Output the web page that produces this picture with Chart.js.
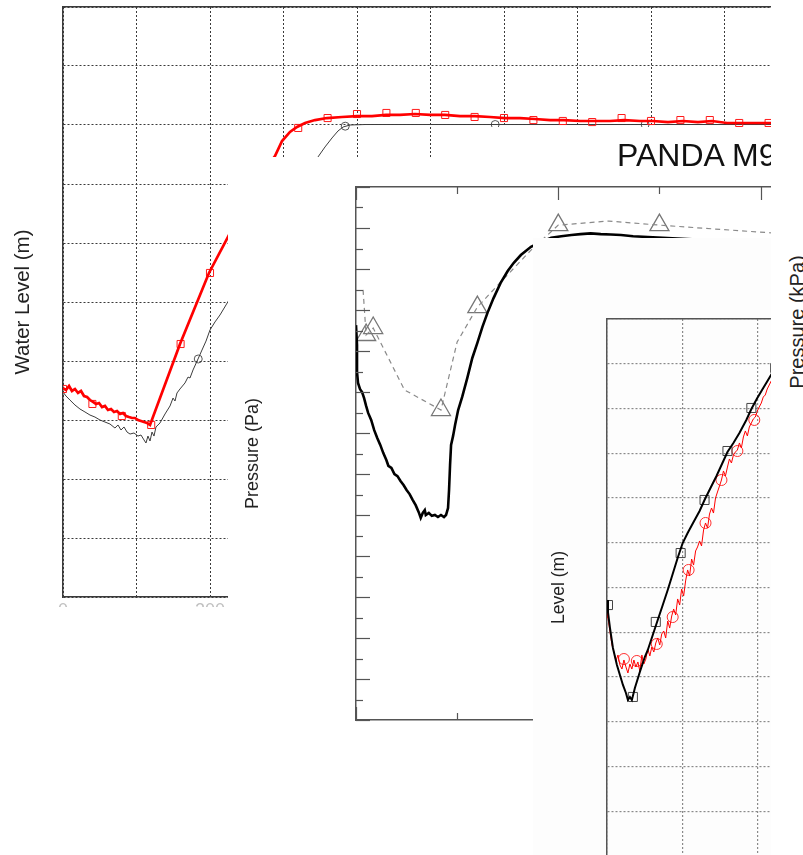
<!DOCTYPE html>
<html>
<head>
<meta charset="utf-8">
<title>PANDA M9</title>
<script src="https://cdn.jsdelivr.net/npm/chart.js@4.4.1/dist/chart.umd.min.js"></script>
<style>
  html, body { margin: 0; padding: 0; background: #fff; width: 803px; height: 855px; overflow: hidden; }
  #stage { position: absolute; left: 0; top: 0; width: 771px; height: 855px; overflow: hidden; background: #fff; }
  #wrapA { position: absolute; left: 0; top: 0; width: 771px; height: 607px; overflow: hidden; }
  canvas { position: absolute; display: block; }
  #cA { left: 0; top: 0; }
  #cB { left: 228px; top: 157px; background: #fff; }
  #cC { left: 533px; top: 238px; background: #fdfdfd; }
  #titleBox { position: absolute; left: 470px; top: 127px; width: 301px; height: 30px; background: #fff; }
  #title { position: absolute; left: 617px; top: 139px; font: 32px 'Liberation Sans', Arial, sans-serif; line-height: 32px; white-space: nowrap; color: #111; }
  #kpa { position: absolute; left: 797px; top: 322px; transform: translate(-50%, -50%) rotate(-90deg); font: 20px 'Liberation Sans', Arial, sans-serif; white-space: nowrap; color: #222; }
</style>
</head>
<body>
<div id="stage">
  <div id="wrapA"><canvas id="cA" width="804" height="625"></canvas></div>
  <canvas id="cB" width="646" height="698"></canvas>
  <div id="titleBox"></div>
  <div id="title">PANDA M9</div>
  <canvas id="cC" width="382" height="640"></canvas>
</div>
<div id="kpa">Pressure (kPa)</div>

<script>
// ---- Water level run (upper panel): time in s, level in m ----
const levelRedTime = [0,4.1,8.2,12.2,16.3,20.4,24.5,28.6,32.7,36.7,40.8,44.9,49.0,53.1,57.1,61.2,65.3,69.4,73.5,77.6,81.6,85.7,89.8,93.9,98.0,102.0,106.1,110.2,114.3,118.4,159.2,198.6,224.5,254.4,274.8,288.4,298.0,308.8,318.4,329.3,342.9,359.2,379.6,400.0,420.4,439.5,458.5,478.9,499.3,519.7,540.1,560.5,580.9,601.4,621.8,642.2,662.6,681.6,703.4,722.4,744.2,763.3,785.0,802.7,823.1,843.5,863.9,883.0,903.4,923.8,944.2,963.3,989.1];
const levelRed = [1.771,1.754,1.788,1.746,1.763,1.729,1.746,1.703,1.695,1.669,1.653,1.636,1.644,1.610,1.619,1.585,1.593,1.568,1.576,1.551,1.559,1.534,1.525,1.517,1.517,1.500,1.492,1.483,1.475,1.458,2.144,2.746,3.051,3.407,3.619,3.737,3.864,3.941,3.983,4.017,4.042,4.059,4.068,4.076,4.076,4.085,4.085,4.093,4.085,4.085,4.076,4.076,4.068,4.059,4.059,4.051,4.042,4.042,4.034,4.034,4.034,4.042,4.034,4.034,4.025,4.034,4.025,4.034,4.017,4.017,4.017,4.017,4.017];
const levelRedMarkT = [0,40,80,120,160,200,240,280,320,360,400,440,480,520,560,600,640,680,720,760,800,840,880,920,960];
const levelRedMark = [1.763,1.636,1.534,1.458,2.144,2.746,3.24,3.666,3.975,4.059,4.093,4.102,4.102,4.085,4.068,4.059,4.042,4.034,4.025,4.059,4.034,4.042,4.042,4.017,4.017];
const levelBlackTime = [0,4.1,9.5,16.3,23.1,29.9,36.7,43.5,50.3,57.1,63.9,70.7,74.8,78.9,83.0,87.1,91.2,96.6,102.0,106.1,110.2,112.9,115.6,118.4,121.1,123.8,126.5,132.0,138.8,145.6,149.7,152.4,155.1,159.2,166.0,170.1,172.8,176.9,183.7,189.1,194.6,200.0,206.8,213.6,221.8,234.0,268.0,308.8,346.9,356.5,366.0,374.1,381.0,390.5,410.9,500,700,1000];
const levelBlack = [1.737,1.703,1.669,1.627,1.593,1.568,1.542,1.525,1.500,1.483,1.466,1.432,1.458,1.415,1.441,1.398,1.381,1.390,1.364,1.373,1.331,1.305,1.364,1.322,1.398,1.364,1.441,1.475,1.551,1.619,1.686,1.661,1.729,1.763,1.814,1.864,1.856,1.924,2.017,2.093,2.169,2.263,2.331,2.390,2.475,2.602,2.966,3.364,3.729,3.814,3.890,3.949,3.983,4.000,4.004,4.004,4.004,4.004];
const levelBlackMarkT = [184,384,588,792];
const levelBlackMark = [2.017,3.99,4.004,4.004];

// ---- Pressure run (middle panel): time in s, pressure in Pa ----
const pressTime = [0,0.1,0.1,0.2,0.4,0.6,0.8,1.0,1.2,1.5,1.8,2.1,2.4,2.7,3.0,3.2,3.5,3.8,4.1,4.4,4.7,5.0,5.3,5.6,5.9,6.2,6.4,6.6,6.8,6.9,7.2,7.5,7.8,8.1,8.4,8.7,8.9,9.1,9.2,9.3,9.4,9.6,9.8,10.1,10.5,11.0,11.5,12.0,12.5,13.0,13.6,14.3,15.0,15.6,16.3,17.3,18.3,19.3,20.3,21.3,22.2,23.2,24.2,25.2,26.2,27.4,34.2,50];
const pressure = [963,915,849,822,807,800,785,766,749,732,707,688,671,651,634,620,615,600,595,583,573,561,551,537,524,507,493,505,512,500,505,498,500,495,500,495,500,517,561,622,671,693,720,756,788,834,883,920,959,993,1029,1066,1095,1115,1134,1154,1166,1176,1180,1183,1185,1187,1185,1184,1183,1180,1171,1159];
const refTime = [0.7,1.0,1.7,4.8,8.4,10.0,12.0,14.3,17.3,20.0,25.0,30.0,35.2,41.1,50];
const refPressure = [1049,939,956,805,756,922,1007,1068,1146,1207,1217,1207,1198,1188,1180];
const refMarkT = [1.0,1.7,8.4,12.0,20.0,30.0];
const refMark = [939,956,756,1007,1207,1207];

// ---- Level run (lower panel): time in s, level in m ----
const tankTime = [0,0.013,0.040,0.079,0.132,0.172,0.212,0.252,0.278,0.305,0.331,0.371,0.437,0.503,0.543,0.609,0.675,0.742,0.808,0.874,0.940,1.007,1.073,1.152,1.232,1.298,1.377,1.457,1.536,1.603,1.682,1.762,1.854,1.921,2.000,2.079,2.159,2.238];
const tankLevel = [2.860,2.726,2.547,2.324,2.134,2.022,1.911,1.821,1.743,1.777,1.743,1.877,2.056,2.223,2.302,2.469,2.637,2.804,2.972,3.151,3.330,3.497,3.609,3.732,3.855,3.978,4.112,4.246,4.391,4.514,4.615,4.726,4.872,4.994,5.117,5.229,5.341,5.453];
const tankMarkT = [0.013,0.344,0.649,0.980,1.298,1.603,1.921,2.238];
const tankMark = [2.804,1.777,2.615,3.385,3.978,4.525,5.006,5.453];
const probeTime = [0.000,0.013,0.040,0.066,0.093,0.119,0.146,0.172,0.199,0.225,0.252,0.278,0.305,0.331,0.358,0.384,0.411,0.437,0.464,0.490,0.517,0.543,0.570,0.596,0.623,0.649,0.675,0.702,0.728,0.755,0.781,0.808,0.834,0.861,0.887,0.914,0.940,0.967,0.993,1.020,1.046,1.073,1.099,1.126,1.152,1.179,1.205,1.232,1.258,1.285,1.311,1.338,1.364,1.391,1.417,1.444,1.470,1.497,1.523,1.550,1.576,1.603,1.629,1.656,1.682,1.709,1.735,1.762,1.788,1.815,1.841,1.868,1.894,1.921,1.947,1.974,2.000,2.026,2.053,2.079,2.106,2.132,2.159,2.185,2.238];
const probeLevel = [2.782,2.659,2.503,2.358,2.279,2.179,2.246,2.134,2.089,2.190,2.112,2.045,2.145,2.089,2.190,2.112,2.168,2.067,2.246,2.145,2.201,2.313,2.235,2.335,2.279,2.380,2.436,2.358,2.480,2.514,2.436,2.626,2.547,2.682,2.760,2.693,2.872,2.804,2.983,2.905,3.073,3.196,3.128,3.318,3.251,3.408,3.453,3.520,3.464,3.642,3.721,3.665,3.821,3.888,3.832,4.000,4.067,4.134,4.201,4.302,4.246,4.346,4.436,4.391,4.480,4.514,4.536,4.615,4.559,4.682,4.749,4.693,4.793,4.838,4.883,4.905,4.972,5.017,5.061,5.128,5.151,5.218,5.263,5.307,5.385];
const probeMarkT = [0.225,0.397,0.662,0.874,1.086,1.311,1.523,1.735,1.960];
const probeMark = [2.201,2.179,2.369,2.670,3.196,3.721,4.201,4.525,4.872];

// axis titles
const titleA = 'Water Level (m)';
const titleB = 'Pressure (Pa)';
const titleC = 'Level (m)';

Chart.defaults.font.family = "'Liberation Sans', Arial, sans-serif";
Chart.defaults.color = '#222';

function pts(xs, ys) { return xs.map((x, i) => ({ x: x, y: ys[i] })); }

const clear = 'rgba(0,0,0,0)';
const baseOptions = {
  responsive: false,
  animation: false,
  devicePixelRatio: 1,
  layout: { padding: 0 },
  plugins: { legend: { display: false }, tooltip: { enabled: false } }
};

// Tick marks pointing into the plot area, long on major values, short otherwise
function innerTicks(cfg) {
  return {
    id: 'innerTicks',
    afterDraw(chart) {
      const ctx = chart.ctx, a = chart.chartArea;
      ctx.save();
      ctx.strokeStyle = cfg.color;
      ctx.lineWidth = cfg.width;
      cfg.axes.forEach(ax => {
        const s = chart.scales[ax.id];
        s.ticks.forEach(t => {
          const q = t.value / ax.major;
          const len = Math.abs(q - Math.round(q)) < 1e-6 ? ax.majorLen : ax.minorLen;
          const p = Math.round(s.getPixelForValue(t.value)) + 0.5;
          ctx.beginPath();
          ax.edges.forEach(e => {
            if (e === 'top') { ctx.moveTo(p, a.top); ctx.lineTo(p, a.top + len); }
            if (e === 'bottom') { ctx.moveTo(p, a.bottom); ctx.lineTo(p, a.bottom - len); }
            if (e === 'left') { ctx.moveTo(a.left, p); ctx.lineTo(a.left + len, p); }
          });
          ctx.stroke();
        });
      });
      ctx.restore();
    }
  };
}

// ---------- upper panel ----------
new Chart(document.getElementById('cA'), {
  type: 'scatter',
  data: { datasets: [
    { data: pts(levelRedTime, levelRed), showLine: true, borderColor: '#ff0000', borderWidth: 2.7, pointRadius: 0, tension: 0 },
    { data: pts(levelRedMarkT, levelRedMark), showLine: false, pointStyle: 'rect', pointRadius: 5, borderColor: '#ff1a1a', backgroundColor: clear, borderWidth: 1 },
    { data: pts(levelBlackTime, levelBlack), showLine: true, borderColor: '#3c3c3c', borderWidth: 1, pointRadius: 0, tension: 0 },
    { data: pts(levelBlackMarkT, levelBlackMark), showLine: false, pointStyle: 'circle', pointRadius: 4, borderColor: '#555', backgroundColor: clear, borderWidth: 1 }
  ]},
  options: Object.assign({}, baseOptions, {
    scales: {
      x: { type: 'linear', position: 'bottom', min: 0, max: 1000,
        ticks: { stepSize: 100, autoSkip: false, maxRotation: 0, padding: 3, color: '#c0c0c0', font: { size: 18 },
          callback: v => (v % 200 === 0 && v <= 400) ? String(v) : '' },
        grid: { color: '#3a3a3a', lineWidth: 1, drawTicks: false },
        border: { display: true, color: '#3a3a3a', width: 1.5, dash: [2, 2] },
        afterFit: s => { s.height = 28; } },
      xTop: { axis: 'x', type: 'linear', position: 'top', min: 0, max: 1000,
        ticks: { display: false },
        grid: { display: true, drawOnChartArea: false, drawTicks: false },
        border: { display: true, color: '#3a3a3a', width: 1.5 },
        afterFit: s => { s.height = 7; } },
      y: { type: 'linear', position: 'left', min: 0, max: 5,
        ticks: { stepSize: 0.5, display: false },
        grid: { color: '#3a3a3a', lineWidth: 1, drawTicks: false },
        border: { display: true, color: '#3a3a3a', width: 1.5, dash: [2, 2] },
        title: { display: true, text: titleA, color: '#222', font: { size: 20.5 }, padding: { top: 10.7, bottom: 0 } },
        afterFit: s => { s.width = 63; } }
    }
  })
});

// ---------- middle panel ----------
new Chart(document.getElementById('cB'), {
  type: 'scatter',
  data: { datasets: [
    { data: pts(pressTime, pressure), showLine: true, borderColor: '#000', borderWidth: 2.6, pointRadius: 0, tension: 0 },
    { data: pts(refTime, refPressure), showLine: true, borderColor: '#8a8a8a', borderWidth: 1.2, borderDash: [5, 4], pointRadius: 0, tension: 0 },
    { data: pts(refMarkT, refMark), showLine: false, pointStyle: 'triangle', pointRadius: 11, borderColor: '#777', backgroundColor: clear, borderWidth: 1.3 }
  ]},
  options: Object.assign({}, baseOptions, {
    scales: {
      x: { type: 'linear', position: 'bottom', min: 0, max: 50,
        ticks: { stepSize: 10, display: false },
        grid: { display: true, drawOnChartArea: false, drawTicks: false },
        border: { display: true, color: '#555', width: 1.5 },
        afterFit: s => { s.height = 135; } },
      xTop: { axis: 'x', type: 'linear', position: 'top', min: 0, max: 50,
        ticks: { display: false },
        grid: { display: true, drawOnChartArea: false, drawTicks: false },
        border: { display: true, color: '#555', width: 1.5 },
        afterFit: s => { s.height = 30; } },
      y: { type: 'linear', position: 'left', min: 0, max: 1300,
        ticks: { stepSize: 50, display: false },
        grid: { display: true, drawOnChartArea: false, drawTicks: false },
        border: { display: true, color: '#555', width: 1.5 },
        title: { display: true, text: titleB, color: '#222', font: { size: 18 }, padding: { top: 14.7, bottom: 0 } },
        afterFit: s => { s.width = 128; } }
    }
  }),
  plugins: [innerTicks({ color: '#555', width: 1.2, axes: [
    { id: 'x', edges: ['top', 'bottom'], major: 20, majorLen: 13, minorLen: 7 },
    { id: 'y', edges: ['left'], major: 100, majorLen: 14, minorLen: 7 }
  ]})]
});

// ---------- lower panel ----------
new Chart(document.getElementById('cC'), {
  type: 'scatter',
  data: { datasets: [
    { data: pts(tankTime, tankLevel), showLine: true, borderColor: '#000', borderWidth: 2, pointRadius: 0, tension: 0 },
    { data: pts(tankMarkT, tankMark), showLine: false, pointStyle: 'rect', pointRadius: 6.4, borderColor: '#444', backgroundColor: clear, borderWidth: 1 },
    { data: pts(probeTime, probeLevel), showLine: true, borderColor: '#ff0000', borderWidth: 1, pointRadius: 0, tension: 0 },
    { data: pts(probeMarkT, probeMark), showLine: false, pointStyle: 'circle', pointRadius: 5.5, borderColor: '#ff3030', backgroundColor: clear, borderWidth: 1 }
  ]},
  options: Object.assign({}, baseOptions, {
    scales: {
      x: { type: 'linear', position: 'bottom', min: 0, max: 4,
        ticks: { stepSize: 1, display: false },
        grid: { color: '#8a8a8a', lineWidth: 1.2, drawTicks: false },
        border: { display: true, color: '#555', width: 1.5, dash: [2, 2] },
        afterFit: s => { s.height = 22; } },
      xTop: { axis: 'x', type: 'linear', position: 'top', min: 0, max: 4,
        ticks: { display: false },
        grid: { display: true, drawOnChartArea: false, drawTicks: false },
        border: { display: true, color: '#555', width: 1.5 },
        afterFit: s => { s.height = 81; } },
      y: { type: 'linear', position: 'left', min: 0, max: 6,
        ticks: { stepSize: 0.5, display: false },
        grid: { color: '#8a8a8a', lineWidth: 1.2, drawTicks: false },
        border: { display: true, color: '#555', width: 1.5, dash: [2, 2] },
        title: { display: true, text: titleC, color: '#222', font: { size: 17.5 }, padding: { top: 15.5, bottom: 0 } },
        afterFit: s => { s.width = 74; } }
    }
  })
});
</script>
</body>
</html>
